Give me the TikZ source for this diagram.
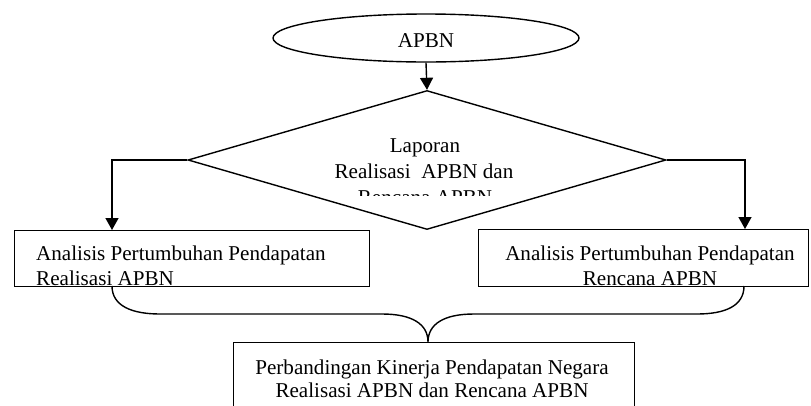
\documentclass[tikz,border=0pt]{standalone}
\usepackage{fontspec}
\setmainfont{Liberation Serif}
\usetikzlibrary{shapes.geometric,arrows.meta}
\tikzset{
  ln/.style={line width=1.4pt},
  arr/.style={ln,-{Triangle[width=13pt,length=12pt]}},
  box/.style={draw,ln,rectangle,inner sep=0pt,anchor=north west},
  txt/.style={inner sep=0pt,font=\fontsize{21.1}{25}\selectfont},
}
\begin{document}
\begin{tikzpicture}[x=1pt,y=-1pt]
\useasboundingbox (0,0) rectangle (811,405);
% start ellipse
\node[draw,ln,ellipse,minimum width=306pt,minimum height=48pt,inner sep=0pt] (apbn) at (426,38) {};
\node[txt,anchor=base] (apbnt) at (426,47) {APBN};
% decision diamond
\node[draw,ln,diamond,shape aspect=3.44,minimum width=478pt,minimum height=139pt,inner sep=0pt] (dia) at (427,160) {};
\begin{scope}
\clip (150,92) rectangle (700,195);
\node[txt,anchor=base] (d1) at (425,152) {Laporan};
\node[txt,anchor=base] (d2) at (424,178) {Realisasi\ \ APBN dan};
\node[txt,anchor=base] (d3) at (425,204) {Rencana APBN};
\end{scope}
% boxes
\node[box,minimum width=355pt,minimum height=56pt] (lbox) at (14,230) {};
\node[box,minimum width=330pt,minimum height=57pt] (rbox) at (478,229) {};
\node[box,minimum width=401pt,minimum height=80pt] (bbox) at (233,342) {};
\node[txt,anchor=base west] (l1) at (36,260) {Analisis Pertumbuhan Pendapatan};
\node[txt,anchor=base west] (l2) at (36,285) {Realisasi APBN};
\node[txt,anchor=base] (r1) at (650,260) {Analisis Pertumbuhan Pendapatan};
\node[txt,anchor=base] (r2) at (650,285) {Rencana APBN};
\node[txt,anchor=base] (b1) at (432,374) {Perbandingan Kinerja Pendapatan Negara};
\node[txt,anchor=base] (b2) at (432,397) {Realisasi APBN dan Rencana APBN};
% connector points
\coordinate (lin) at (112,230);
\coordinate (rin) at (745,229);
\coordinate (lout) at (112,286);
\coordinate (rout) at (744,286);
\coordinate (tip) at (428,342);
% arrows
\draw[arr] (apbn.south) -- (dia.north);
\draw[arr] (dia.west) -| (lin);
\draw[arr] (dia.east) -| (rin);
% brace joining both boxes to the bottom box
\draw[ln] (lout) .. controls (112,306) and (132,314) .. (160,314) -- (382,314)
  .. controls (412,314) and (428,324) .. (tip)
  .. controls (428,324) and (444,314) .. (474,314) -- (697,314)
  .. controls (725,314) and (744,306) .. (rout);
\end{tikzpicture}
\end{document}
